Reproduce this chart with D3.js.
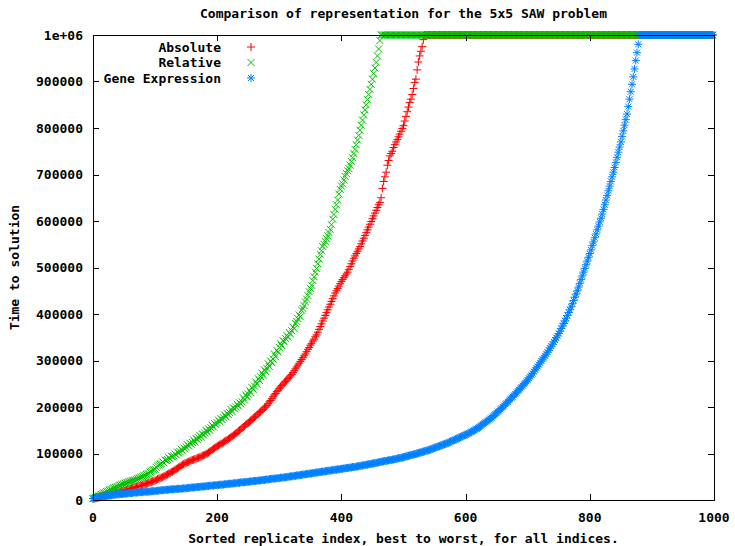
<!DOCTYPE html>
<html>
<head>
<meta charset="utf-8">
<script src="https://cdn.jsdelivr.net/npm/d3@7"></script>
<style>
  body { margin: 0; background: #fff; }
  text { font-family: 'DejaVu Sans Mono', monospace; font-weight: bold; font-size: 13px; fill: #000; }
</style>
</head>
<body>
<div id="chart"></div>
<script>
// 每2个样本取一个值(单位: 千), 超出列表长度的样本视为达到时间上限
const nRuns = 1000;
const sampleStep = 2;
const timeLimit = 1e6;

const xTicks = [0, 200, 400, 600, 800, 1000];
const yTicks = [0, 100000, 200000, 300000, 400000, 500000, 600000, 700000, 800000, 900000, 1000000];
const yTickLabels = ['0', '100000', '200000', '300000', '400000', '500000', '600000', '700000', '800000', '900000', '1e+06'];

const seriesNames = ['Absolute', 'Relative', 'Gene Expression'];

const absoluteTimes = [
  3, 4, 5, 6, 6, 7, 8, 8, 9, 10, 10, 11, 12, 12, 13, 13, 14, 15, 15, 16,
  16, 17, 18, 19, 19, 20, 21, 22, 23, 23, 24, 25, 26, 27, 27, 28, 29, 30, 31, 31,
  32, 33, 34, 35, 36, 37, 38, 39, 40, 41, 42, 43, 45, 46, 47, 48, 49, 51, 52, 54,
  55, 57, 58, 60, 61, 63, 65, 67, 68, 70, 72, 74, 76, 77, 79, 80, 81, 82, 84, 85,
  86, 87, 88, 89, 90, 91, 92, 93, 95, 96, 97, 99, 100, 102, 104, 106, 108, 110, 112, 114,
  116, 117, 119, 121, 122, 124, 126, 128, 129, 131, 133, 135, 137, 139, 141, 143, 145, 148, 150, 152,
  155, 157, 159, 162, 164, 166, 168, 171, 173, 176, 178, 180, 183, 185, 188, 190, 193, 195, 198, 200,
  203, 207, 211, 214, 218, 222, 226, 229, 233, 236, 240, 243, 246, 249, 252, 255, 258, 261, 264, 267,
  270, 274, 278, 282, 286, 290, 294, 298, 302, 306, 310, 314, 319, 324, 328, 333, 337, 342, 346, 351,
  355, 361, 367, 373, 379, 385, 391, 397, 403, 409, 415, 421, 427, 433, 439, 445, 450, 455, 460, 465,
  470, 474, 478, 482, 486, 490, 496, 502, 508, 514, 520, 525, 530, 535, 540, 545, 551, 557, 563, 569,
  575, 581, 587, 593, 599, 605, 611, 617, 623, 629, 635, 640, 650, 670, 685, 695, 705, 720, 730, 740,
  745, 750, 758, 764, 770, 775, 781, 787, 793, 799, 805, 815, 825, 835, 845, 855, 862, 872, 885, 898,
  905, 925, 942, 955, 965, 975, 990,
];

const relativeTimes = [
  3, 4, 6, 7, 8, 9, 11, 12, 14, 15, 16, 18, 19, 21, 22, 23, 25, 26, 27, 28,
  29, 31, 32, 33, 34, 35, 36, 37, 38, 39, 40, 41, 42, 42, 43, 44, 46, 47, 48, 49,
  50, 52, 53, 55, 56, 57, 60, 62, 64, 65, 66, 70, 73, 75, 77, 78, 82, 80, 86, 85,
  87, 91, 89, 94, 93, 95, 99, 97, 103, 101, 104, 109, 106, 112, 110, 114, 119, 116, 122, 120,
  124, 129, 125, 132, 130, 134, 139, 135, 142, 140, 144, 150, 146, 153, 150, 155, 161, 157, 164, 162,
  166, 172, 168, 175, 173, 177, 183, 179, 186, 184, 188, 195, 190, 198, 196, 200, 206, 202, 209, 207,
  211, 220, 215, 226, 222, 228, 236, 231, 242, 238, 245, 254, 249, 261, 257, 265, 273, 268, 280, 276,
  283, 293, 287, 299, 295, 303, 314, 308, 322, 318, 328, 336, 332, 343, 340, 347, 354, 350, 360, 357,
  364, 372, 369, 380, 384, 390, 398, 394, 408, 412, 418, 426, 432, 440, 448, 455, 462, 472, 480, 490,
  498, 508, 518, 528, 536, 545, 550, 556, 562, 568, 575, 582, 592, 604, 614, 625, 635, 645, 658, 668,
  675, 680, 688, 696, 702, 708, 713, 720, 728, 736, 745, 754, 764, 774, 784, 795, 806, 817, 828, 839,
  850, 861, 872, 883, 894, 905, 917, 929, 941, 955, 970, 988,
];

const geneExpressionTimes = [
  3, 3, 4, 5, 5, 6, 6, 7, 7, 8, 8, 9, 9, 10, 10, 10, 11, 11, 12, 12,
  12, 12, 13, 13, 13, 13, 14, 14, 14, 15, 15, 15, 15, 16, 16, 16, 16, 17, 17, 17,
  17, 17, 18, 18, 18, 18, 18, 19, 19, 19, 19, 20, 20, 20, 21, 21, 21, 21, 22, 22,
  22, 22, 23, 23, 23, 23, 23, 24, 24, 24, 24, 24, 25, 25, 25, 25, 26, 26, 26, 27,
  27, 27, 27, 28, 28, 28, 28, 29, 29, 29, 29, 30, 30, 30, 31, 31, 31, 31, 32, 32,
  32, 32, 33, 33, 33, 33, 34, 34, 34, 35, 35, 35, 35, 36, 36, 36, 37, 37, 37, 38,
  38, 38, 38, 39, 39, 39, 40, 40, 40, 41, 41, 41, 41, 42, 42, 42, 43, 43, 43, 44,
  44, 44, 45, 45, 46, 46, 46, 46, 47, 47, 47, 48, 48, 48, 49, 49, 49, 50, 50, 51,
  51, 51, 52, 52, 53, 53, 53, 54, 54, 55, 55, 55, 56, 56, 57, 57, 57, 58, 58, 59,
  59, 59, 60, 60, 61, 61, 61, 62, 62, 63, 63, 63, 64, 64, 65, 65, 65, 66, 66, 67,
  67, 67, 68, 68, 69, 69, 69, 70, 70, 71, 71, 71, 72, 72, 73, 73, 74, 74, 75, 75,
  76, 76, 77, 77, 78, 78, 79, 79, 80, 80, 81, 82, 82, 83, 83, 84, 84, 85, 85, 86,
  86, 87, 87, 88, 88, 89, 90, 90, 91, 91, 92, 93, 94, 94, 95, 96, 97, 97, 98, 98,
  99, 100, 101, 102, 102, 103, 104, 105, 106, 106, 107, 108, 109, 110, 111, 112, 113, 114, 115, 116,
  117, 118, 119, 120, 121, 122, 123, 124, 126, 127, 128, 129, 130, 132, 133, 134, 135, 137, 138, 139,
  140, 141, 143, 144, 146, 147, 149, 150, 152, 153, 155, 157, 159, 161, 163, 165, 167, 169, 171, 173,
  175, 177, 180, 182, 185, 187, 190, 192, 195, 197, 200, 203, 206, 208, 211, 214, 217, 220, 222, 225,
  228, 231, 234, 237, 240, 243, 246, 249, 252, 255, 258, 262, 265, 269, 272, 276, 280, 284, 287, 291,
  295, 299, 303, 306, 310, 314, 318, 322, 327, 331, 335, 340, 344, 349, 353, 358, 363, 369, 374, 380,
  385, 391, 397, 403, 409, 415, 422, 429, 436, 443, 450, 458, 466, 474, 482, 490, 498, 506, 514, 522,
  530, 538, 547, 555, 564, 572, 581, 589, 598, 606, 615, 625, 635, 645, 655, 665, 675, 685, 695, 705,
  715, 726, 737, 748, 759, 770, 782, 794, 806, 818, 830, 846, 862, 878, 894, 910, 927, 945, 962, 980,
];

const seriesTimes = [absoluteTimes, relativeTimes, geneExpressionTimes];
const colors = ['#ff0000', '#00c000', '#0080ff'];
const symbols = ['plus', 'cross', 'star'];

const W = 735, H = 546;
const margin = { left: 93, right: 21, top: 35, bottom: 46 };

const svg = d3
  .select('#chart')
  .append('svg')
  .attr('width', W)
  .attr('height', H);

const x = d3.scaleLinear().domain([0, 1000]).range([margin.left, W - margin.right]);
const y = d3.scaleLinear().domain([0, 1000000]).range([H - margin.bottom, margin.top]);

// 点符号路径 (gnuplot pt 1/2/3)
const symbolPath = (type, cx, cy) => {
  const a = 4, b = 3.5, c = 3;
  const plus = `M${cx - a},${cy}H${cx + a}M${cx},${cy - a}V${cy + a}`;
  const cross = (r) => `M${cx - r},${cy - r}L${cx + r},${cy + r}M${cx - r},${cy + r}L${cx + r},${cy - r}`;
  if (type === 'plus') return plus;
  if (type === 'cross') return cross(b);
  return plus + cross(c);
};

// 数据点
seriesTimes.forEach((times, s) => {
  const pts = d3.range(0, nRuns, sampleStep).map((idx) => {
    const v = times[idx / sampleStep];
    return [idx, v !== undefined ? v * 1000 : timeLimit];
  });

  svg
    .append('path')
    .attr('class', 'series')
    .attr('fill', 'none')
    .attr('stroke', colors[s])
    .attr('stroke-width', 1)
    .attr('d', pts.map((p) => symbolPath(symbols[s], x(p[0]), y(p[1]))).join(''));
});

// 坐标刻度
const tickLen = 6;
const ticks = svg.append('g').attr('stroke', '#000').attr('stroke-width', 1);

xTicks.forEach((t) => {
  const px = Math.round(x(t)) + 0.5;
  ticks.append('line').attr('x1', px).attr('x2', px).attr('y1', y(0)).attr('y2', y(0) - tickLen);
  ticks.append('line').attr('x1', px).attr('x2', px).attr('y1', y(1e6)).attr('y2', y(1e6) + tickLen);
});

yTicks.forEach((t) => {
  const py = Math.round(y(t)) + 0.5;
  ticks.append('line').attr('x1', x(0)).attr('x2', x(0) + tickLen).attr('y1', py).attr('y2', py);
  ticks.append('line').attr('x1', x(1000)).attr('x2', x(1000) - tickLen).attr('y1', py).attr('y2', py);
});

// 边框
svg
  .append('rect')
  .attr('x', Math.round(x(0)) + 0.5)
  .attr('y', Math.round(y(1e6)) + 0.5)
  .attr('width', Math.round(x(1000) - x(0)))
  .attr('height', Math.round(y(0) - y(1e6)))
  .attr('fill', 'none')
  .attr('stroke', '#000')
  .attr('stroke-width', 1);

svg
  .append('g')
  .selectAll('text')
  .data(xTicks)
  .enter()
  .append('text')
  .attr('x', (d) => x(d))
  .attr('y', y(0) + 17)
  .attr('text-anchor', 'middle')
  .attr('dominant-baseline', 'central')
  .text((d) => d);

svg
  .append('g')
  .selectAll('text')
  .data(yTicks)
  .enter()
  .append('text')
  .attr('x', 83)
  .attr('y', (d) => y(d))
  .attr('text-anchor', 'end')
  .attr('dominant-baseline', 'central')
  .text((d, i) => yTickLabels[i]);

// 标题与轴标题
svg
  .append('text')
  .attr('x', (x(0) + x(1000)) / 2)
  .attr('y', 13)
  .attr('text-anchor', 'middle')
  .attr('dominant-baseline', 'central')
  .text('Comparison of representation for the 5x5 SAW problem');

svg
  .append('text')
  .attr('x', (x(0) + x(1000)) / 2)
  .attr('y', 538)
  .attr('text-anchor', 'middle')
  .attr('dominant-baseline', 'central')
  .text('Sorted replicate index, best to worst, for all indices.');

svg
  .append('text')
  .attr('transform', `translate(14,${(y(0) + y(1e6)) / 2}) rotate(-90)`)
  .attr('text-anchor', 'middle')
  .attr('dominant-baseline', 'central')
  .text('Time to solution');

// 图例
const legend = svg.append('g').attr('class', 'legend');
seriesNames.forEach((name, i) => {
  const ly = 47 + i * 15.5;
  legend
    .append('text')
    .attr('x', 221)
    .attr('y', ly)
    .attr('text-anchor', 'end')
    .attr('dominant-baseline', 'central')
    .text(name);
  legend
    .append('path')
    .attr('fill', 'none')
    .attr('stroke', colors[i])
    .attr('d', symbolPath(symbols[i], 251, ly));
});
</script>
</body>
</html>
